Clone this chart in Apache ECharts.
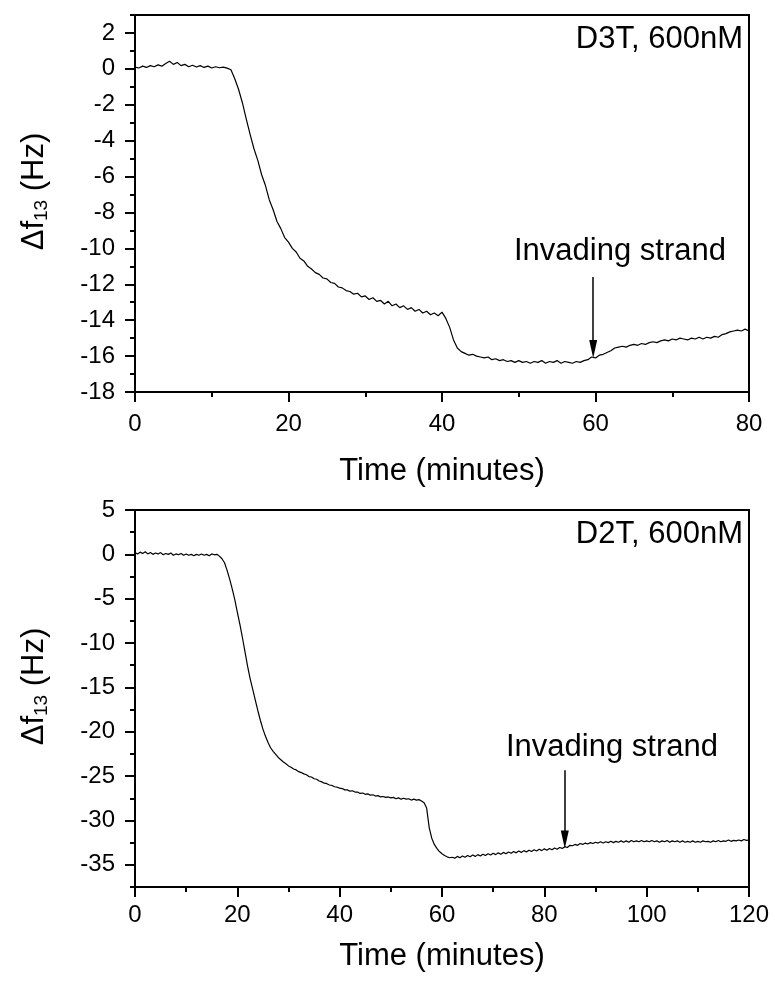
<!DOCTYPE html>
<html><head><meta charset="utf-8">
<script src="https://cdn.jsdelivr.net/npm/echarts@6/dist/echarts.min.js"></script>
<style>html,body{margin:0;padding:0;background:#fff}#c{width:775px;height:983px}</style>
</head><body><div id="c"></div>
<script>
// ---------- DATA ----------
const topStep = 0.5;      // minutes between samples (top panel)
const bottomStep = 0.5;   // minutes between samples (bottom panel)

const topValues = [
 0.10,0.05,0.15,0.08,0.18,0.12,0.22,0.15,0.30,0.42,0.25,0.35,0.18,0.25,0.12,0.20,0.10,0.18,0.08,0.15,0.05,0.12,0.06,0.10,0.04,
 -0.05,-0.55,-1.15,-1.90,-2.80,-3.65,-4.45,-5.10,-5.90,-6.50,-7.30,-7.85,-8.50,-8.90,-9.40,-9.65,
 -10.00,-10.20,-10.55,-10.70,-11.00,-11.15,-11.35,-11.45,-11.65,-11.70,-11.90,-11.95,-12.15,-12.20,-12.35,-12.40,-12.55,-12.50,-12.70,-12.65,
 -12.85,-12.75,-12.95,-12.90,-13.10,-12.95,-13.20,-13.10,-13.30,-13.20,-13.40,-13.30,-13.50,-13.40,-13.60,-13.50,-13.70,-13.60,-13.75,-13.55,
 -13.90,-14.40,-15.10,-15.55,-15.75,-15.85,-15.95,-15.90,-16.00,-16.05,-16.10,-16.05,-16.20,-16.15,-16.25,-16.20,-16.30,-16.25,-16.35,-16.25,
 -16.35,-16.30,-16.40,-16.30,-16.35,-16.25,-16.40,-16.30,-16.35,-16.25,-16.40,-16.30,-16.35,-16.40,-16.30,-16.35,-16.25,-16.20,-16.05,-16.10,
 -15.95,-15.90,-15.80,-15.70,-15.55,-15.50,-15.45,-15.50,-15.40,-15.35,-15.40,-15.30,-15.35,-15.25,-15.20,-15.25,-15.15,-15.10,-15.15,-15.05,
 -15.10,-15.00,-15.05,-15.10,-15.00,-15.05,-14.95,-15.05,-14.95,-15.00,-14.90,-14.95,-14.80,-14.75,-14.65,-14.60,-14.55,-14.60,-14.50,-14.60
];

const bottomValues = [
 0.20,0.05,0.25,0.10,0.30,0.05,0.20,0.00,0.15,0.05,0.20,-0.05,0.10,0.00,0.15,-0.10,0.05,-0.05,0.10,-0.10,0.05,-0.10,0.00,-0.15,0.00,-0.10,0.05,-0.10,0.00,-0.15,0.05,-0.05,0.00,
 -0.20,-0.50,-0.95,-1.80,-2.80,-3.90,-5.10,-6.50,-7.90,-9.40,-11.00,-12.60,-14.00,-15.20,-16.40,-17.60,-18.70,-19.70,-20.50,-21.20,-21.80,-22.20,-22.55,-22.90,
 -23.15,-23.40,-23.60,-23.85,-24.00,-24.20,-24.30,-24.50,-24.60,-24.75,-24.85,-25.05,-25.10,-25.30,-25.35,-25.55,-25.65,-25.80,-25.85,-26.00,-26.05,-26.20,-26.25,-26.35,
 -26.40,-26.55,-26.55,-26.70,-26.65,-26.80,-26.80,-26.95,-26.90,-27.05,-27.00,-27.15,-27.10,-27.25,-27.20,-27.35,-27.30,-27.40,-27.35,-27.45,
 -27.40,-27.55,-27.45,-27.60,-27.50,-27.60,-27.55,-27.70,-27.60,-27.70,-27.65,-27.80,-28.00,-28.60,-30.80,-32.00,-32.70,-33.15,-33.50,-33.75,
 -33.95,-34.10,-34.20,-34.15,-34.25,-34.05,-34.20,-34.00,-34.15,-33.95,-34.10,-33.90,-34.05,-33.85,-34.00,-33.80,-33.95,-33.75,-33.90,-33.70,
 -33.85,-33.65,-33.80,-33.60,-33.75,-33.55,-33.70,-33.50,-33.65,-33.45,-33.60,-33.40,-33.55,-33.35,-33.50,-33.30,-33.45,-33.25,-33.40,-33.20,
 -33.35,-33.15,-33.30,-33.10,-33.25,-33.05,-33.15,-32.95,-33.05,-32.80,-32.85,-32.70,-32.80,-32.60,-32.70,-32.55,-32.65,-32.50,-32.60,-32.45,
 -32.55,-32.40,-32.55,-32.40,-32.50,-32.35,-32.50,-32.35,-32.45,-32.30,-32.45,-32.30,-32.45,-32.25,-32.40,-32.30,-32.40,-32.25,-32.40,-32.30,
 -32.40,-32.25,-32.40,-32.30,-32.45,-32.30,-32.40,-32.25,-32.45,-32.30,-32.40,-32.30,-32.45,-32.30,-32.45,-32.35,-32.45,-32.30,-32.45,-32.35,
 -32.45,-32.30,-32.40,-32.35,-32.45,-32.30,-32.40,-32.25,-32.40,-32.30,-32.35,-32.20,-32.35,-32.25,-32.30,-32.20,-32.30,-32.15,-32.25,-32.20
];

const topLabel = 'D3T, 600nM';
const bottomLabel = 'D2T, 600nM';
const arrowText = 'Invading strand';
const topArrow = [59.7, -11.6, -15.6];     // x, start y, arrow-head centre y
const bottomArrow = [84.0, -24.35, -32.15];
const xName = 'Time (minutes)';
const yName = 'Δf{s|13} (Hz)';

// ---------- CHART ----------
const FONT = "'Liberation Sans', Arial, sans-serif";
const toPairs = (vals, step) => vals.map((v, i) => [i * step, v]);

const P_LEFT = 135, P_W = 614, P_H = 377;
const TOP1 = 15, TOP2 = 510;

const axisLine = {show: true, onZero: false, lineStyle: {color: '#000', width: 2}};
const labelStyle = {color: '#000', fontSize: 24, fontFamily: FONT};
const nameStyle = {color: '#000', fontSize: 31, fontFamily: FONT};

function xAxisMain(gi, max, margin, gap) {
  return {
    type: 'value', gridIndex: gi, min: 0, max: max, interval: 20,
    axisLine: axisLine,
    axisTick: {show: true, inside: false, length: 10, lineStyle: {color: '#000', width: 2}},
    minorTick: {show: true, splitNumber: 2, length: 5, lineStyle: {color: '#000', width: 2}},
    splitLine: {show: false}, minorSplitLine: {show: false},
    axisLabel: Object.assign({margin: margin}, labelStyle),
    name: xName, nameLocation: 'middle', nameGap: gap, nameTextStyle: nameStyle
  };
}
function yAxisFrame(gi, min, max, step) {
  return {
    type: 'value', gridIndex: gi, min: min, max: max, interval: step,
    axisLine: axisLine,
    axisTick: {show: true, length: 5, lineStyle: {color: '#000', width: 2}},
    axisLabel: {show: false},
    splitLine: {show: false},
    name: yName, nameLocation: 'middle', nameGap: 84,
    nameTextStyle: Object.assign({padding: [0, 0, 0, 24],
      rich: {s: {fontSize: 19, fontFamily: FONT, color: '#000', verticalAlign: 'bottom', padding: [14, 0, 0, 0]}}}, nameStyle)
  };
}
function yAxisLabels(gi, min, max, step) {
  return {
    type: 'value', gridIndex: gi, min: min, max: max, interval: step,
    axisLine: {show: false},
    axisTick: {show: true, length: 10, lineStyle: {color: '#000', width: 2}},
    axisLabel: Object.assign({margin: 20}, labelStyle),
    splitLine: {show: false}
  };
}
const hiddenX = gi => ({type: 'value', gridIndex: gi, min: 0, max: 1, show: false});

const textStyleBig = {color: '#000', fontSize: 31, fontWeight: 'normal', fontFamily: FONT};

function arrowLine(a) {
  return {
    silent: true, animation: false,
    symbol: ['none', 'triangle'], symbolSize: [8, 18],
    lineStyle: {color: '#000', width: 1.5, type: 'solid'},
    label: {show: false}, emphasis: {disabled: true},
    data: [[{coord: [a[0], a[1]]}, {coord: [a[0], a[2]]}]]
  };
}

const option = {
  animation: false,
  backgroundColor: '#fff',
  title: [
    {text: topLabel, right: 32, top: 24, padding: 0, textStyle: textStyleBig},
    {text: bottomLabel, right: 32, top: 519, padding: 0, textStyle: textStyleBig},
    {text: arrowText, left: 514, top: 236, padding: 0, textStyle: textStyleBig},
    {text: arrowText, left: 506, top: 732, padding: 0, textStyle: textStyleBig}
  ],
  grid: [
    {left: P_LEFT, top: TOP1, width: P_W, height: P_H, show: true, borderColor: '#000', borderWidth: 2, backgroundColor: 'transparent'},
    {left: P_LEFT, top: TOP2, width: P_W, height: P_H, show: true, borderColor: '#000', borderWidth: 2, backgroundColor: 'transparent'},
    {left: P_LEFT, top: TOP1 + P_H / 21, width: P_W, height: P_H * 20 / 21},
    {left: P_LEFT, top: TOP2, width: P_W, height: P_H * 40 / 42.5}
  ],
  xAxis: [xAxisMain(0, 80, 20, 64), xAxisMain(1, 120, 16, 54), hiddenX(2), hiddenX(3)],
  yAxis: [
    yAxisFrame(0, -18, 3, 1),
    yAxisFrame(1, -37.5, 5, 2.5),
    yAxisLabels(2, -18, 2, 2),
    yAxisLabels(3, -35, 5, 5)
  ],
  series: [
    {type: 'line', xAxisIndex: 0, yAxisIndex: 0, data: toPairs(topValues, topStep),
     showSymbol: false, symbol: 'none', lineStyle: {color: '#000', width: 1.2}, emphasis: {disabled: true},
     markLine: arrowLine(topArrow)},
    {type: 'line', xAxisIndex: 1, yAxisIndex: 1, data: toPairs(bottomValues, bottomStep),
     showSymbol: false, symbol: 'none', lineStyle: {color: '#000', width: 1.2}, emphasis: {disabled: true},
     markLine: arrowLine(bottomArrow)}
  ]
};
const chart = echarts.init(document.getElementById('c'), null, {renderer: 'canvas'});
chart.setOption(option);
</script>
</body></html>
